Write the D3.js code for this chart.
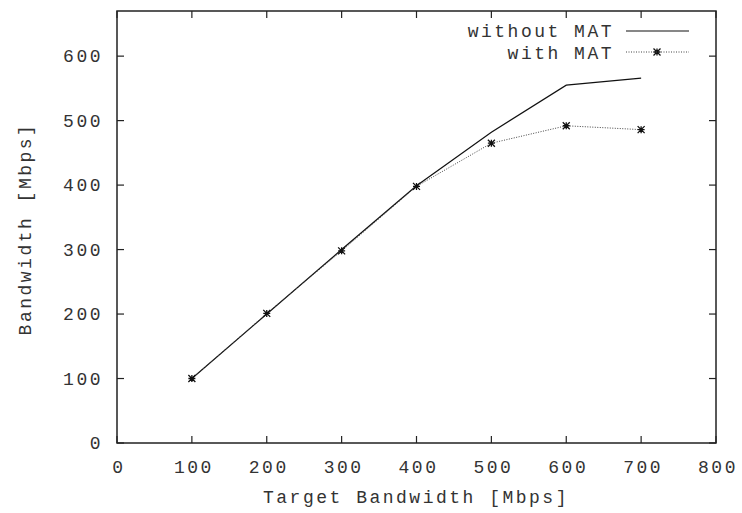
<!DOCTYPE html>
<html>
<head>
<meta charset="utf-8">
<script src="https://cdn.jsdelivr.net/npm/d3@7"></script>
<style>
  body { margin: 0; background: #fff; }
  text { font-family: "Liberation Mono", "DejaVu Sans Mono", monospace; font-size: 18px; fill: #333; letter-spacing: 2.5px; }
</style>
</head>
<body>
<svg id="chart" width="742" height="513"></svg>
<script>
// target bandwidth (x) and measured bandwidth for both runs
const targets = [100, 200, 300, 400, 500, 600, 700];
const withoutMat = [100, 200, 300, 399, 482, 555, 566];
const withMat = [100, 201, 298, 398, 465, 492, 486];

const xTicks = [0, 100, 200, 300, 400, 500, 600, 700, 800];
const yTicks = [0, 100, 200, 300, 400, 500, 600];

const mLeft = 117, mRight = 716, mTop = 11, mBottom = 443;

const svg = d3.select('#chart');

const x = d3.scaleLinear().domain([0, 800]).range([mLeft, mRight]);
const y = d3.scaleLinear().domain([0, 670]).range([mBottom, mTop]);

// frame
svg.append('rect')
  .attr('x', mLeft).attr('y', mTop)
  .attr('width', mRight - mLeft).attr('height', mBottom - mTop)
  .attr('fill', 'none').attr('stroke', '#222').attr('stroke-width', 1.5);

// ticks on all four sides, pointing inward
const tickLen = 7;
const tk = svg.append('g').attr('stroke', '#222').attr('stroke-width', 1.2);
xTicks.forEach((t) => {
  tk.append('line').attr('x1', x(t)).attr('x2', x(t)).attr('y1', mBottom).attr('y2', mBottom - tickLen);
  tk.append('line').attr('x1', x(t)).attr('x2', x(t)).attr('y1', mTop).attr('y2', mTop + tickLen);
});
yTicks.forEach((t) => {
  tk.append('line').attr('y1', y(t)).attr('y2', y(t)).attr('x1', mLeft).attr('x2', mLeft + tickLen);
  tk.append('line').attr('y1', y(t)).attr('y2', y(t)).attr('x1', mRight).attr('x2', mRight - tickLen);
});

svg.append('g').selectAll('text').data(xTicks).join('text')
  .attr('x', (d) => x(d) + 2)
  .attr('y', 473)
  .attr('text-anchor', 'middle')
  .text((d) => d);

svg.append('g').selectAll('text').data(yTicks).join('text')
  .attr('x', 103)
  .attr('y', (d) => y(d) + 6)
  .attr('text-anchor', 'end')
  .text((d) => d);

// axis titles
svg.append('text')
  .attr('x', 416).attr('y', 503)
  .attr('text-anchor', 'middle')
  .text('Target Bandwidth [Mbps]');

svg.append('text')
  .attr('transform', 'translate(31,229) rotate(-90)')
  .attr('text-anchor', 'middle')
  .text('Bandwidth [Mbps]');

const line = d3.line().x((d) => x(d[0])).y((d) => y(d[1]));

svg.append('path')
  .datum(d3.zip(targets, withoutMat))
  .attr('d', line)
  .attr('fill', 'none').attr('stroke', '#111').attr('stroke-width', 1.2);

svg.append('path')
  .datum(d3.zip(targets, withMat))
  .attr('d', line)
  .attr('fill', 'none').attr('stroke', '#444').attr('stroke-width', 1)
  .attr('stroke-dasharray', '1,1.5');

// asterisk markers
const star = (g, cx, cy) => {
  const s = 3.5;
  g.append('path')
    .attr('d', `M${cx - s},${cy}H${cx + s}M${cx},${cy - s}V${cy + s}M${cx - s},${cy - s}L${cx + s},${cy + s}M${cx - s},${cy + s}L${cx + s},${cy - s}`)
    .attr('stroke', '#111').attr('stroke-width', 1.3).attr('fill', 'none');
};
const marks = svg.append('g');
targets.forEach((t, i) => star(marks, x(t), y(withMat[i])));

// legend
svg.append('text')
  .attr('x', 614).attr('y', 37)
  .attr('text-anchor', 'end')
  .text('without MAT');
svg.append('line')
  .attr('x1', 626).attr('x2', 689).attr('y1', 31).attr('y2', 31)
  .attr('stroke', '#111').attr('stroke-width', 1.2);

svg.append('text')
  .attr('x', 614).attr('y', 59)
  .attr('text-anchor', 'end')
  .text('with MAT');
svg.append('line')
  .attr('x1', 626).attr('x2', 689).attr('y1', 52).attr('y2', 52)
  .attr('stroke', '#444').attr('stroke-width', 1)
  .attr('stroke-dasharray', '1,1.5');
star(marks, 657, 52);
</script>
</body>
</html>
